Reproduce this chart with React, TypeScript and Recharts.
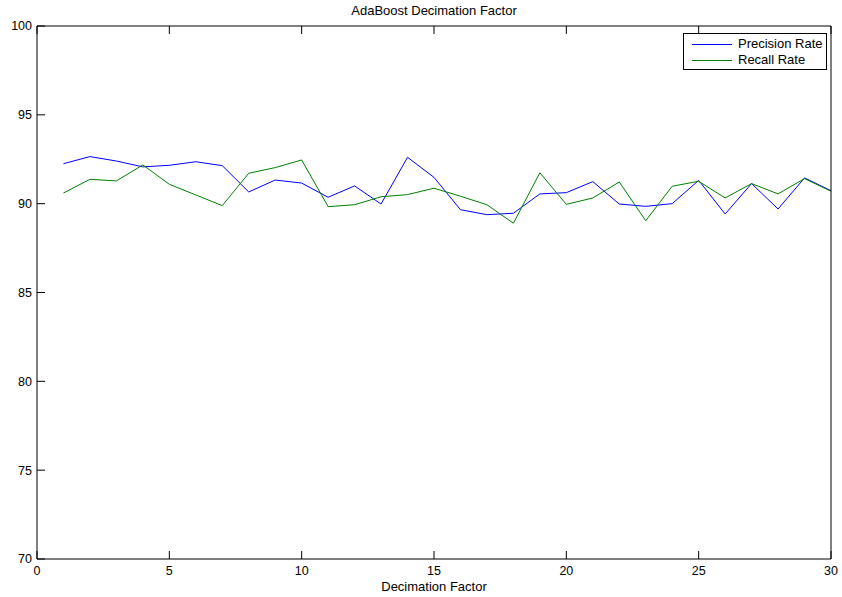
import React from 'react';
import { LineChart, Line, XAxis, YAxis, Legend } from 'recharts';

const decimation = [1, 2, 3, 4, 5, 6, 7, 8, 9, 10, 11, 12, 13, 14, 15, 16, 17, 18, 19, 20, 21, 22, 23, 24, 25, 26, 27, 28, 29, 30];
const precision = [92.25, 92.65, 92.4, 92.07, 92.16, 92.36, 92.14, 90.66, 91.33, 91.16, 90.36, 91.0, 89.98, 92.61, 91.48, 89.66, 89.38, 89.46, 90.55, 90.62, 91.24, 89.98, 89.85, 90.0, 91.31, 89.42, 91.13, 89.7, 91.45, 90.73];
const recall = [90.6, 91.37, 91.28, 92.18, 91.09, 90.49, 89.89, 91.71, 92.03, 92.46, 89.83, 89.94, 90.39, 90.51, 90.87, 90.42, 89.94, 88.9, 91.74, 89.96, 90.32, 91.22, 89.04, 90.98, 91.26, 90.32, 91.13, 90.55, 91.41, 90.7];
const xTicks = [0, 5, 10, 15, 20, 25, 30];
const yTicks = [70, 75, 80, 85, 90, 95, 100];

const data = decimation.map((d, i) => ({ d, precision: precision[i], recall: recall[i] }));

const FONT = 'Arial, "Liberation Sans", Helvetica, sans-serif';
const tickStyle = { fill: '#000', fontSize: 12.5, fontFamily: FONT };
const axisLine = { stroke: '#000', strokeWidth: 1 };
const tickLine = { stroke: '#000', strokeWidth: 1 };

const EmptyTick = () => <g />;

const LegendBox = (props: any) => {
  const payload = props.payload || [];
  return (
    <div
      style={{
        border: '1px solid #000',
        background: '#fff',
        width: 144,
        height: 37,
        boxSizing: 'border-box',
        fontFamily: FONT,
        fontSize: 13,
        padding: '2px 0 0 8px',
      }}
    >
      {payload.map((p: any, i: number) => (
        <div key={i} style={{ display: 'flex', alignItems: 'center', height: 16 }}>
          <div style={{ width: 40, height: 0, borderTop: `1px solid ${p.color}`, marginRight: 6 }} />
          <span style={{ color: '#000', lineHeight: '16px' }}>{p.value}</span>
        </div>
      ))}
    </div>
  );
};

export default function App() {
  return (
    <div style={{ position: 'absolute', left: 0, top: 0, background: '#fff' }}>
      <LineChart width={842} height={597} data={data} margin={{ top: 0, right: 0, bottom: 0, left: 0 }}>
        <XAxis
          xAxisId="bottom"
          dataKey="d"
          type="number"
          domain={[0, 30]}
          ticks={xTicks}
          orientation="bottom"
          height={38}
          tickSize={-8}
          tickMargin={15}
          axisLine={axisLine}
          tickLine={tickLine}
          tick={tickStyle}
          label={{ value: 'Decimation Factor', position: 'insideBottom', offset: 6, fill: '#000', fontSize: 13, fontFamily: FONT }}
        />
        <XAxis
          xAxisId="top"
          dataKey="d"
          type="number"
          domain={[0, 30]}
          ticks={xTicks}
          orientation="top"
          height={26}
          tickSize={-8}
          axisLine={axisLine}
          tickLine={tickLine}
          tick={<EmptyTick />}
          label={{ value: 'AdaBoost Decimation Factor', position: 'insideTop', offset: 6, fill: '#000', fontSize: 13, fontFamily: FONT }}
        />
        <YAxis
          yAxisId="left"
          type="number"
          domain={[70, 100]}
          ticks={yTicks}
          orientation="left"
          width={37}
          tickSize={-8}
          tickMargin={13}
          axisLine={axisLine}
          tickLine={tickLine}
          tick={tickStyle}
        />
        <YAxis
          yAxisId="right"
          type="number"
          domain={[70, 100]}
          ticks={yTicks}
          orientation="right"
          width={11}
          tickSize={-8}
          axisLine={axisLine}
          tickLine={tickLine}
          tick={<EmptyTick />}
        />
        <Legend
          layout="vertical"
          align="center"
          verticalAlign="middle"
          wrapperStyle={{ top: 33, left: 683, width: 144, height: 37 }}
          content={<LegendBox />}
        />
        <Line
          xAxisId="bottom"
          yAxisId="left"
          type="linear"
          dataKey="precision"
          name="Precision Rate"
          stroke="#0000ff"
          strokeWidth={1}
          dot={false}
          isAnimationActive={false}
        />
        <Line
          xAxisId="bottom"
          yAxisId="left"
          type="linear"
          dataKey="recall"
          name="Recall Rate"
          stroke="#008000"
          strokeWidth={1}
          dot={false}
          isAnimationActive={false}
        />
      </LineChart>
    </div>
  );
}
